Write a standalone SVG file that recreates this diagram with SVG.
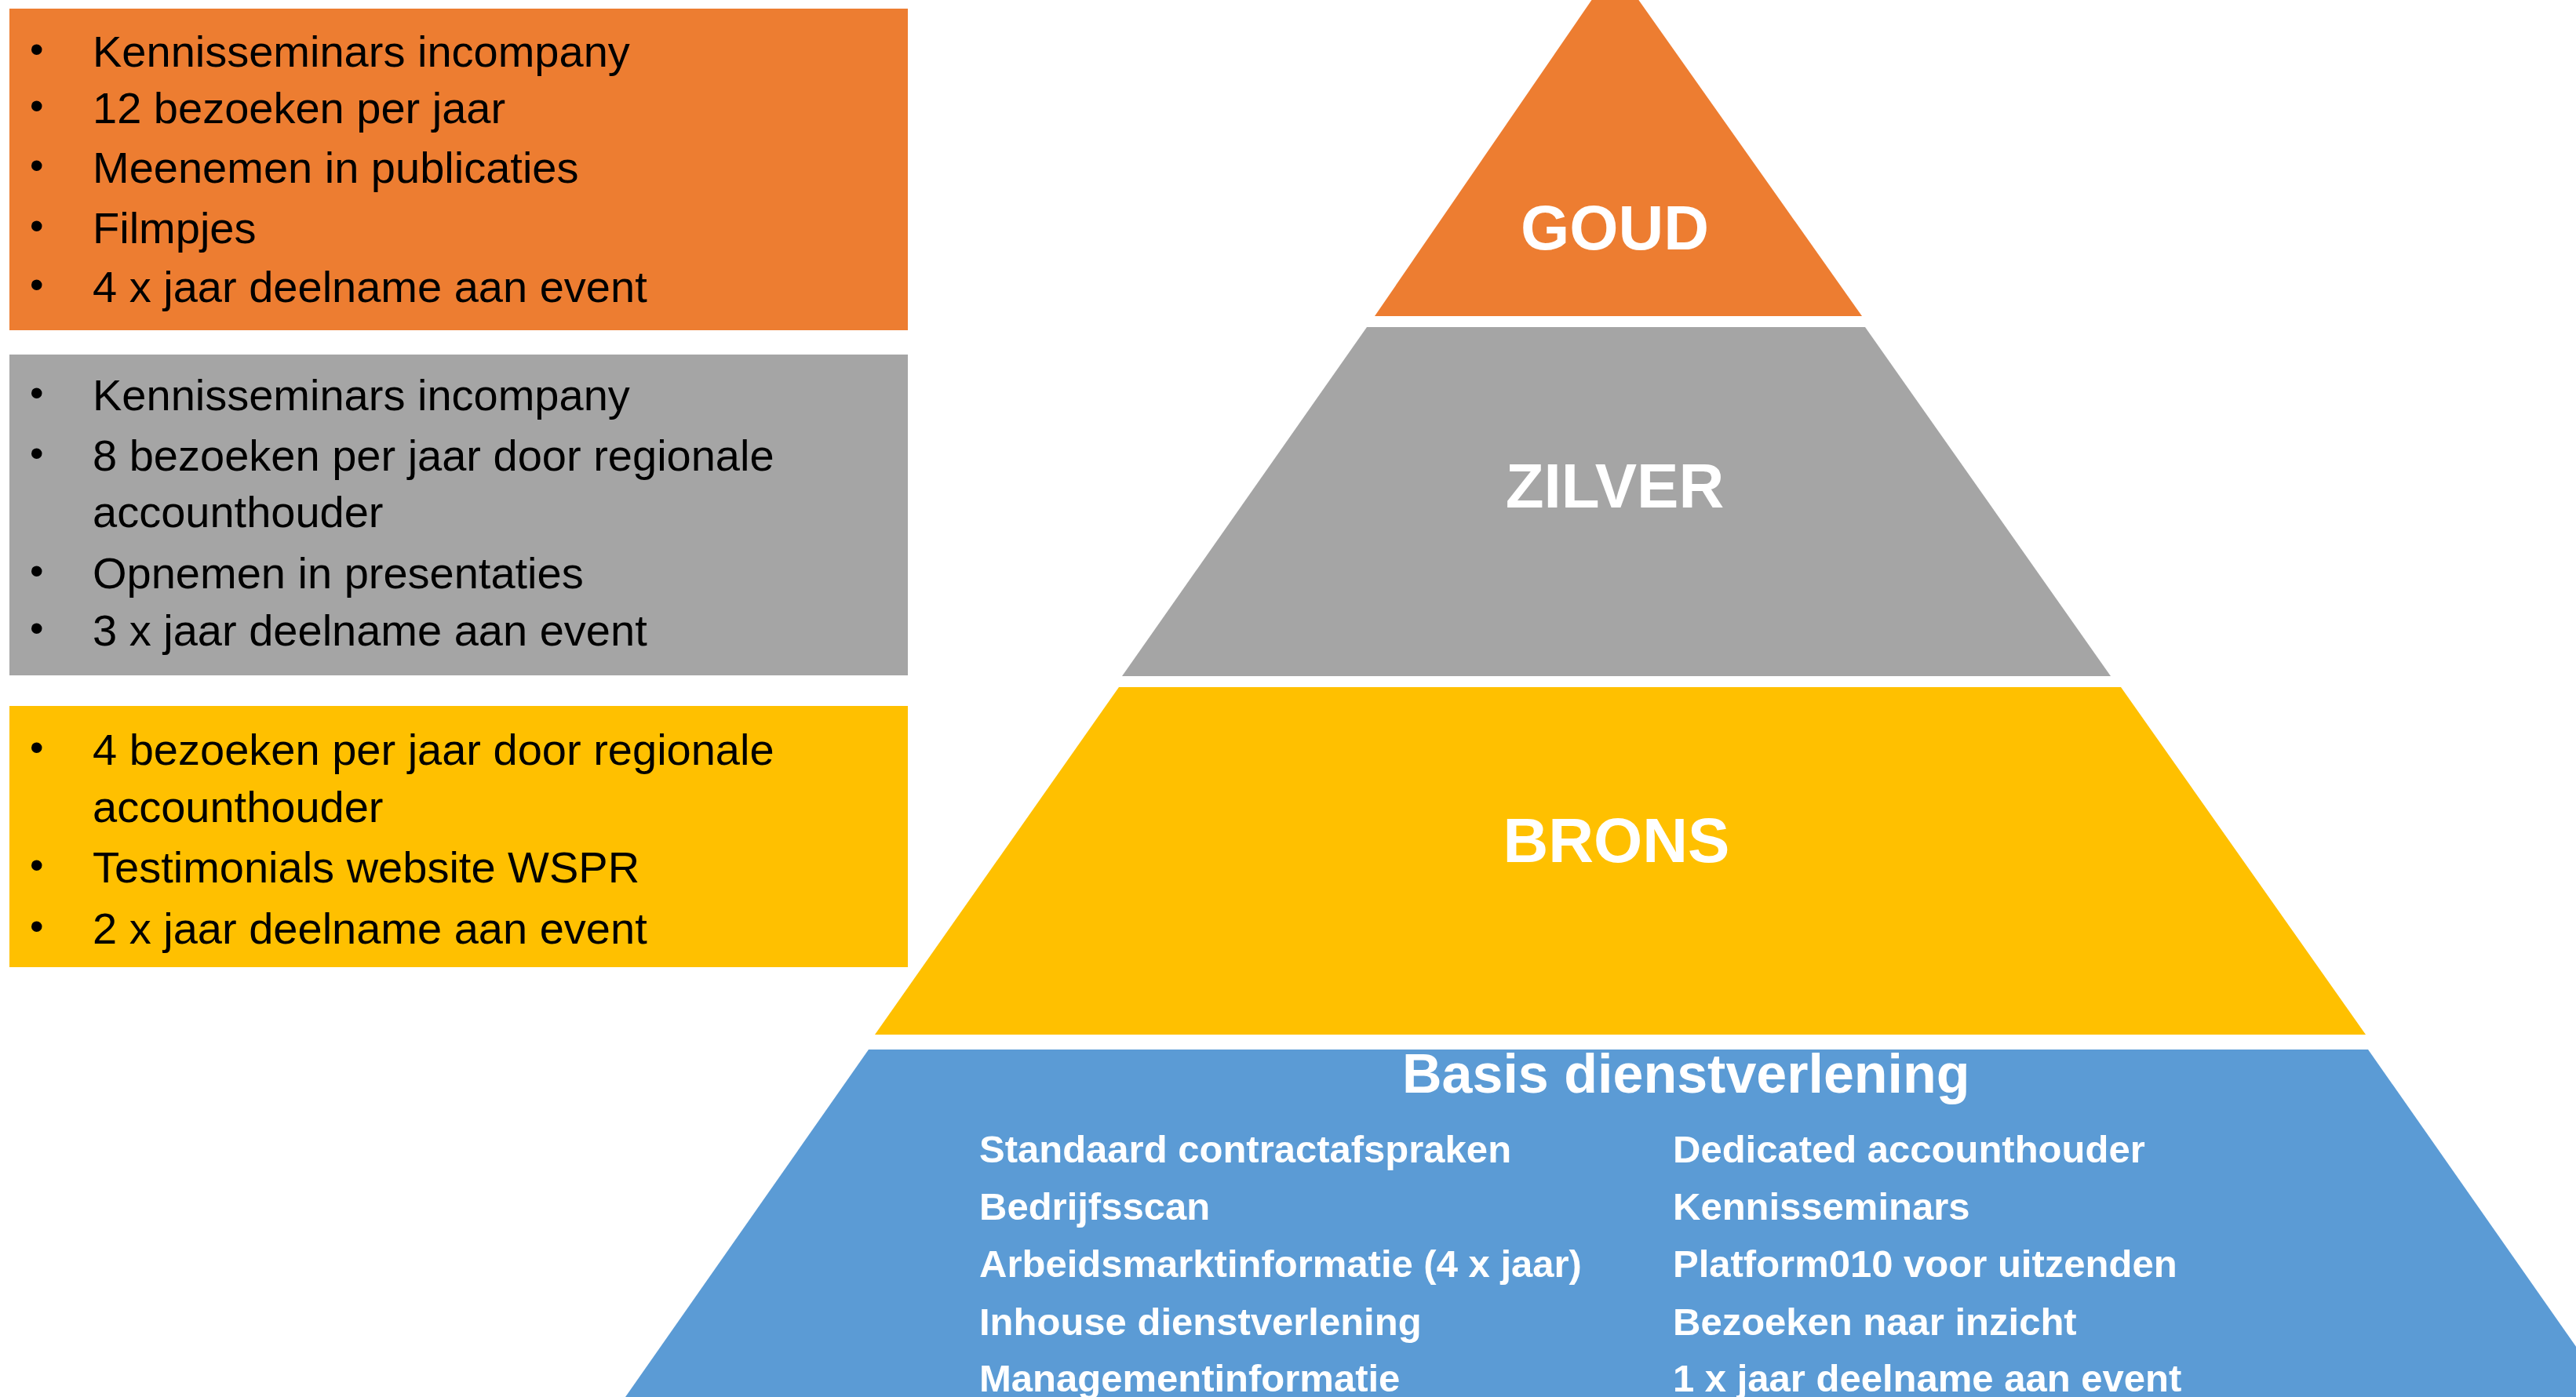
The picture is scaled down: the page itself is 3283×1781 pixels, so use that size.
<svg xmlns="http://www.w3.org/2000/svg" width="3283" height="1781" viewBox="0 0 3283 1781">
<style>
.lt{font-family:"Liberation Sans",Arial,sans-serif;font-size:56px;fill:#000}
.bu{font-family:"Liberation Sans",Arial,sans-serif;font-size:50px;fill:#000}
.tier{font-family:"Liberation Sans",Arial,sans-serif;font-weight:bold;font-size:80px;fill:#fff;text-anchor:middle}
.bt{font-family:"Liberation Sans",Arial,sans-serif;font-weight:bold;font-size:70px;fill:#fff}
.bi{font-family:"Liberation Sans",Arial,sans-serif;font-weight:bold;font-size:49px;fill:#fff}
</style>
<rect width="3283" height="1781" fill="#fff"/>
<g id="box-goud">
<rect x="12" y="11" width="1145" height="410" fill="#ED7D31"/>
<text class="bu" x="38" y="80">•</text><text class="lt" x="118" y="85">Kennisseminars incompany</text>
<text class="bu" x="38" y="152">•</text><text class="lt" x="118" y="157">12 bezoeken per jaar</text>
<text class="bu" x="38" y="228">•</text><text class="lt" x="118" y="233">Meenemen in publicaties</text>
<text class="bu" x="38" y="305">•</text><text class="lt" x="118" y="310">Filmpjes</text>
<text class="bu" x="38" y="380">•</text><text class="lt" x="118" y="385">4 x jaar deelname aan event</text>
</g>
<g id="box-zilver">
<rect x="12" y="452" width="1145" height="409" fill="#A5A5A5"/>
<text class="bu" x="38" y="518">•</text><text class="lt" x="118" y="523">Kennisseminars incompany</text>
<text class="bu" x="38" y="595">•</text><text class="lt" x="118" y="600">8 bezoeken per jaar door regionale</text>
<text class="lt" x="118" y="672">accounthouder</text>
<text class="bu" x="38" y="745">•</text><text class="lt" x="118" y="750">Opnemen in presentaties</text>
<text class="bu" x="38" y="818">•</text><text class="lt" x="118" y="823">3 x jaar deelname aan event</text>
</g>
<g id="box-brons">
<rect x="12" y="900" width="1145" height="333" fill="#FFC000"/>
<text class="bu" x="38" y="970">•</text><text class="lt" x="118" y="975">4 bezoeken per jaar door regionale</text>
<text class="lt" x="118" y="1048">accounthouder</text>
<text class="bu" x="38" y="1120">•</text><text class="lt" x="118" y="1125">Testimonials website WSPR</text>
<text class="bu" x="38" y="1198">•</text><text class="lt" x="118" y="1203">2 x jaar deelname aan event</text>
</g>
<g id="tier-goud">
<polygon points="2058,-43 2373,403 1752,403" fill="#ED7D31"/>
<text class="tier" x="2058" y="318">GOUD</text>
</g>
<g id="tier-zilver">
<polygon points="1742,417 2377,417 2690,862 1430,862" fill="#A5A5A5"/>
<text class="tier" x="2058" y="647">ZILVER</text>
</g>
<g id="tier-brons">
<polygon points="1426,876 2703,876 3015,1319 1115,1319" fill="#FFC000"/>
<text class="tier" x="2060" y="1099">BRONS</text>
</g>
<g id="tier-basis">
<polygon points="1107,1338 3018,1338 3328,1781 797,1781" fill="#5B9BD5"/>
<text class="bt" x="1787" y="1393">Basis dienstverlening</text>
<text class="bi" x="1248" y="1482">Standaard contractafspraken</text>
<text class="bi" x="1248" y="1555">Bedrijfsscan</text>
<text class="bi" x="1248" y="1628">Arbeidsmarktinformatie (4 x jaar)</text>
<text class="bi" x="1248" y="1702">Inhouse dienstverlening</text>
<text class="bi" x="1248" y="1774">Managementinformatie</text>
<text class="bi" x="2132" y="1482">Dedicated accounthouder</text>
<text class="bi" x="2132" y="1555">Kennisseminars</text>
<text class="bi" x="2132" y="1628">Platform010 voor uitzenden</text>
<text class="bi" x="2132" y="1702">Bezoeken naar inzicht</text>
<text class="bi" x="2132" y="1774">1 x jaar deelname aan event</text>
</g>
<g id="connectors"></g>
</svg>
